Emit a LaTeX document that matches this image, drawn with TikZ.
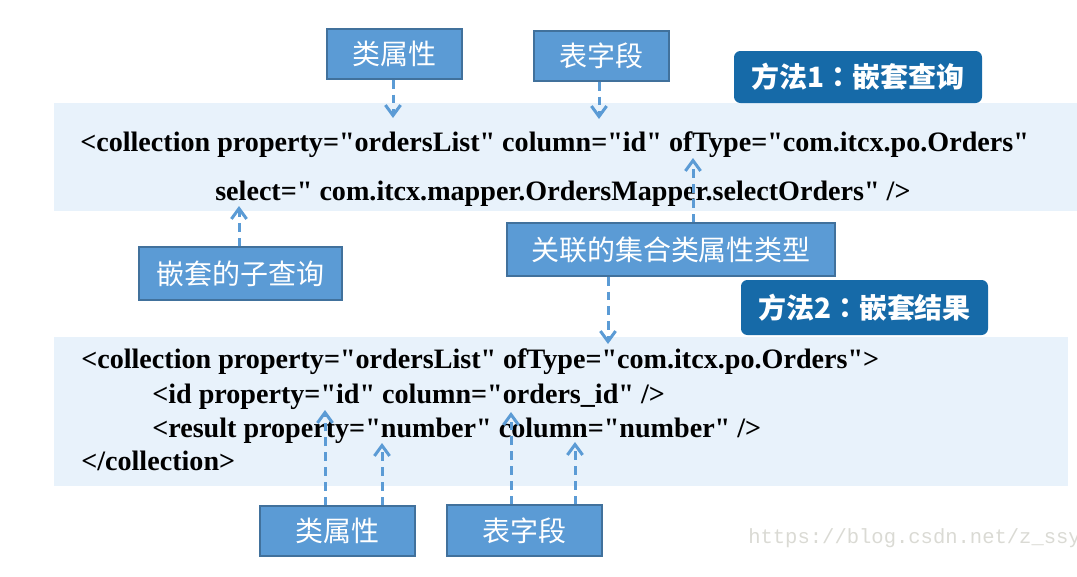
\documentclass[tikz,border=0pt]{standalone}
\usepackage{fontspec}
\newfontfamily\codefont{Liberation Serif}
\newfontfamily\cjkfont{Noto Sans CJK SC}
\newfontfamily\cjkmid{Noto Sans CJK TC}
\newfontfamily\markfont{Liberation Mono}
\usetikzlibrary{arrows.meta}

\definecolor{boxblue}{RGB}{91,155,213}
\definecolor{boxline}{RGB}{65,113,156}
\definecolor{methodblue}{RGB}{22,106,168}
\definecolor{panelblue}{RGB}{232,242,251}
\definecolor{markgray}{RGB}{218,218,212}

\begin{document}
\begin{tikzpicture}[x=0.25mm, y=-0.25mm,
    tag/.style={draw=boxline, line width=0.35mm, fill=boxblue, text=white, inner sep=0pt,
        font=\cjkfont\fontsize{19.9pt}{22pt}\selectfont},
    method/.style={fill=methodblue, rounded corners=1.6mm, text=white, inner sep=0pt,
        font=\cjkfont\bfseries\fontsize{19.9pt}{22pt}\selectfont},
    code/.style={anchor=base west, inner sep=0pt, font=\codefont\bfseries\fontsize{20pt}{24pt}\selectfont},
    link/.style={boxblue, line width=0.75mm, dash pattern=on 2.2mm off 1.5mm,
        -{Straight Barb[length=2.6mm, width=3.8mm]}}]
    \useasboundingbox (0,0) rectangle (1077,576);

    % --- Panels ---
    \fill[panelblue] (54,103) rectangle (1077,211);
    \fill[panelblue] (54,337) rectangle (1068,486);

    % --- Code ---

    % 1. Nested select
    \node[code] (selA) at (80,151) {<collection property="ordersList" column="id" ofType="com.itcx.po.Orders"};
    \node[code] (selB) at (215,200) {select=" com.itcx.mapper.OrdersMapper.selectOrders" />};

    % 2. Nested result
    \node[code] (resA) at (81,368) {<collection property="ordersList" ofType="com.itcx.po.Orders">};
    \node[code] (resB) at (152,403) {<id property="id" column="orders\_id" />};
    \node[code] (resC) at (152,437) {<result property="number" column="number" />};
    \node[code] (resD) at (81,470) {</collection>};

    % --- Labels ---
    \node[tag, minimum width=33.75mm, minimum height=12.5mm] (propTop) at (394.5,54) {类属性};
    \node[tag, minimum width=33.75mm, minimum height=12.5mm] (colTop) at (601.5,56) {表字段};
    \node[method, minimum width=62mm, minimum height=13mm] (methodA) at (858,77) {方法1{\cjkmid ：}嵌套查询};
    \node[tag, minimum width=50.75mm, minimum height=13.25mm] (subSel) at (240.5,273.5) {嵌套的子查询};
    \node[tag, minimum width=82mm, minimum height=13.25mm] (ofType) at (671,249.5) {关联的集合类属性类型};
    \node[method, minimum width=61.75mm, minimum height=13.75mm] (methodB) at (864.5,307.5) {方法2{\cjkmid ：}嵌套结果};
    \node[tag, minimum width=38.75mm, minimum height=12.5mm] (propBot) at (337.5,531) {类属性};
    \node[tag, minimum width=38.75mm, minimum height=12.75mm] (colBot) at (524.5,530.5) {表字段};

    % watermark
    \node[anchor=base west, inner sep=0pt, text=markgray, font=\markfont\fontsize{14.6pt}{18pt}\selectfont] (mark) at (748,543) {https://blog.csdn.net/z\_ssy};

    % --- Arrows ---
    \coordinate (tipProp) at (393,118);
    \coordinate (tipCol) at (599,119);
    \coordinate (tipSel) at (239,206);
    \coordinate (tipType) at (693,158);
    \coordinate (tipList) at (608,344);
    \coordinate (tipIdProp) at (325,410);
    \coordinate (tipNumProp) at (382,443);
    \coordinate (tipIdCol) at (511,412);
    \coordinate (tipNumCol) at (575,442);

    % Top labels (Down)
    \draw[link] (propTop.south -| tipProp) -- (tipProp);
    \draw[link] (colTop.south -| tipCol) -- (tipCol);

    % Middle labels (Up and Down)
    \draw[link] (subSel.north -| tipSel) -- (tipSel);
    \draw[link] (ofType.north -| tipType) -- (tipType);
    \draw[link] (ofType.south -| tipList) -- (tipList);

    % Bottom labels (Up)
    \draw[link] (propBot.north -| tipIdProp) -- (tipIdProp);
    \draw[link] (propBot.north -| tipNumProp) -- (tipNumProp);
    \draw[link] (colBot.north -| tipIdCol) -- (tipIdCol);
    \draw[link] (colBot.north -| tipNumCol) -- (tipNumCol);

\end{tikzpicture}
\end{document}
